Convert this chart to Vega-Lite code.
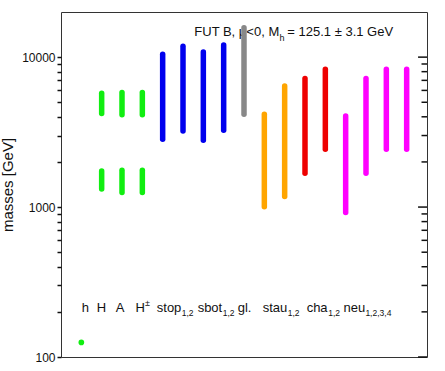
{
  "$schema": "https://vega.github.io/schema/vega-lite/v6.json",
  "width": 366,
  "height": 345,
  "autosize": {"type": "none"},
  "padding": {"left": 61, "top": 12, "right": 18, "bottom": 14},
  "background": "white",
  "config": {"view": {"stroke": "#333", "strokeWidth": 1}, "font": "Liberation Sans"},
  "datasets": {
    "bars": [
      {"p": "H", "i": 2, "lo": 1320, "hi": 1740, "g": "Higgs"},
      {"p": "H", "i": 2, "lo": 4200, "hi": 5750, "g": "Higgs"},
      {"p": "A", "i": 3, "lo": 1250, "hi": 1760, "g": "Higgs"},
      {"p": "A", "i": 3, "lo": 4120, "hi": 5800, "g": "Higgs"},
      {"p": "H±", "i": 4, "lo": 1250, "hi": 1760, "g": "Higgs"},
      {"p": "H±", "i": 4, "lo": 4120, "hi": 5800, "g": "Higgs"},
      {"p": "stop1", "i": 5, "lo": 2830, "hi": 10440, "g": "squark"},
      {"p": "stop2", "i": 6, "lo": 3220, "hi": 11800, "g": "squark"},
      {"p": "sbot1", "i": 7, "lo": 2790, "hi": 10840, "g": "squark"},
      {"p": "sbot2", "i": 8, "lo": 3250, "hi": 12060, "g": "squark"},
      {"p": "gl", "i": 9, "lo": 4155, "hi": 15730, "g": "gluino"},
      {"p": "stau1", "i": 10, "lo": 1003, "hi": 4155, "g": "stau"},
      {"p": "stau2", "i": 11, "lo": 1175, "hi": 6430, "g": "stau"},
      {"p": "cha1", "i": 12, "lo": 1680, "hi": 7190, "g": "chargino"},
      {"p": "cha2", "i": 13, "lo": 2430, "hi": 8300, "g": "chargino"},
      {"p": "neu1", "i": 14, "lo": 919, "hi": 4055, "g": "neutralino"},
      {"p": "neu2", "i": 15, "lo": 1680, "hi": 7190, "g": "neutralino"},
      {"p": "neu3", "i": 16, "lo": 2430, "hi": 8300, "g": "neutralino"},
      {"p": "neu4", "i": 17, "lo": 2430, "hi": 8300, "g": "neutralino"}
    ],
    "light": [{"p": "h", "i": 1, "m": 125.1, "g": "Higgs"}],
    "ticks": [
      {"v": 100, "kind": "major"}, {"v": 200, "kind": "minor"}, {"v": 300, "kind": "minor"},
      {"v": 400, "kind": "minor"}, {"v": 500, "kind": "minor"}, {"v": 600, "kind": "minor"},
      {"v": 700, "kind": "minor"}, {"v": 800, "kind": "minor"}, {"v": 900, "kind": "minor"},
      {"v": 1000, "kind": "major"}, {"v": 2000, "kind": "minor"}, {"v": 3000, "kind": "minor"},
      {"v": 4000, "kind": "minor"}, {"v": 5000, "kind": "minor"}, {"v": 6000, "kind": "minor"},
      {"v": 7000, "kind": "minor"}, {"v": 8000, "kind": "minor"}, {"v": 9000, "kind": "minor"},
      {"v": 10000, "kind": "major"}
    ],
    "texts": [
      {"t": "FUT B, μ<0, M", "x": 6.556, "row": "title", "pos": "main"},
      {"t": "h", "x": 10.75, "row": "title", "pos": "sub"},
      {"t": "= 125.1 ± 3.1 GeV", "x": 11.13, "row": "title", "pos": "main"},
      {"t": "h", "x": 1.02, "row": "labels", "pos": "main"},
      {"t": "H", "x": 1.76, "row": "labels", "pos": "main"},
      {"t": "A", "x": 2.69, "row": "labels", "pos": "main"},
      {"t": "H", "x": 3.67, "row": "labels", "pos": "main"},
      {"t": "±", "x": 4.13, "row": "labels", "pos": "sup"},
      {"t": "stop", "x": 4.71, "row": "labels", "pos": "main"},
      {"t": "1,2", "x": 5.94, "row": "labels", "pos": "sub"},
      {"t": "sbot", "x": 6.72, "row": "labels", "pos": "main"},
      {"t": "1,2", "x": 7.95, "row": "labels", "pos": "sub"},
      {"t": "gl.", "x": 8.69, "row": "labels", "pos": "main"},
      {"t": "stau", "x": 9.92, "row": "labels", "pos": "main"},
      {"t": "1,2", "x": 11.15, "row": "labels", "pos": "sub"},
      {"t": "cha", "x": 12.08, "row": "labels", "pos": "main"},
      {"t": "1,2", "x": 13.14, "row": "labels", "pos": "sub"},
      {"t": "neu", "x": 13.89, "row": "labels", "pos": "main"},
      {"t": "1,2,3,4", "x": 14.97, "row": "labels", "pos": "sub"}
    ]
  },
  "layer": [
    {
      "data": {"name": "texts"},
      "transform": [{"filter": "datum.row == 'title' && datum.pos == 'main'"}],
      "mark": {"type": "text", "align": "left", "baseline": "alphabetic", "fontSize": 13, "color": "#111"},
      "encoding": {
        "x": {"field": "x", "type": "quantitative", "scale": {"domain": [0, 18], "nice": false, "zero": false}, "axis": null},
        "y": {"datum": 13800, "type": "quantitative"},
        "text": {"field": "t"}
      }
    },
    {
      "data": {"name": "texts"},
      "transform": [{"filter": "datum.row == 'title' && datum.pos == 'sub'"}],
      "mark": {"type": "text", "align": "left", "baseline": "alphabetic", "fontSize": 9, "dy": 5, "color": "#111"},
      "encoding": {
        "x": {"field": "x", "type": "quantitative"},
        "y": {"datum": 13800, "type": "quantitative"},
        "text": {"field": "t"}
      }
    },
    {
      "data": {"name": "texts"},
      "transform": [{"filter": "datum.row == 'labels' && datum.pos == 'main'"}],
      "mark": {"type": "text", "align": "left", "baseline": "alphabetic", "fontSize": 13, "color": "#111"},
      "encoding": {
        "x": {"field": "x", "type": "quantitative"},
        "y": {"datum": 201, "type": "quantitative"},
        "text": {"field": "t"}
      }
    },
    {
      "data": {"name": "texts"},
      "transform": [{"filter": "datum.row == 'labels' && datum.pos == 'sub'"}],
      "mark": {"type": "text", "align": "left", "baseline": "alphabetic", "fontSize": 8.5, "dy": 4, "color": "#111"},
      "encoding": {
        "x": {"field": "x", "type": "quantitative"},
        "y": {"datum": 201, "type": "quantitative"},
        "text": {"field": "t"}
      }
    },
    {
      "data": {"name": "texts"},
      "transform": [{"filter": "datum.row == 'labels' && datum.pos == 'sup'"}],
      "mark": {"type": "text", "align": "left", "baseline": "alphabetic", "fontSize": 9, "dy": -6, "color": "#111"},
      "encoding": {
        "x": {"field": "x", "type": "quantitative"},
        "y": {"datum": 201, "type": "quantitative"},
        "text": {"field": "t"}
      }
    },
    {
      "data": {"name": "ticks"},
      "transform": [{"filter": "datum.kind == 'major'"}],
      "mark": {"type": "rule", "color": "#111", "strokeWidth": 1.5},
      "encoding": {
        "x": {"datum": 17.56, "type": "quantitative"},
        "x2": {"datum": 18},
        "y": {"field": "v", "type": "quantitative"}
      }
    },
    {
      "data": {"name": "ticks"},
      "transform": [{"filter": "datum.kind == 'minor'"}],
      "mark": {"type": "rule", "color": "#111", "strokeWidth": 1.5},
      "encoding": {
        "x": {"datum": 17.73, "type": "quantitative"},
        "x2": {"datum": 18},
        "y": {"field": "v", "type": "quantitative"}
      }
    },
    {
      "data": {"name": "bars"},
      "mark": {"type": "rule", "strokeWidth": 5.5, "strokeCap": "round"},
      "encoding": {
        "x": {"field": "i", "type": "quantitative"},
        "y": {
          "field": "lo", "type": "quantitative",
          "scale": {"type": "log", "domain": [100, 20000], "nice": false},
          "axis": {
            "orient": "left",
            "title": "masses [GeV]",
            "titleFont": "Liberation Sans",
            "titleFontSize": 15,
            "titleFontWeight": "normal",
            "titleColor": "#111",
            "titlePadding": 6,
            "values": [100, 200, 300, 400, 500, 600, 700, 800, 900, 1000, 2000, 3000, 4000, 5000, 6000, 7000, 8000, 9000, 10000],
            "labelExpr": "indexof([100, 1000, 10000], datum.value) >= 0 ? format(datum.value, 'd') : ''",
            "labelFont": "Liberation Sans",
            "labelFontSize": 12,
            "labelColor": "#111",
            "labelPadding": 2,
            "labelFlush": false,
            "labelOverlap": false,
            "ticks": true,
            "tickSize": 4,
            "tickColor": "#111",
            "tickWidth": 1.5,
            "domain": false,
            "grid": false
          }
        },
        "y2": {"field": "hi"},
        "color": {
          "field": "g", "type": "nominal",
          "scale": {"domain": ["Higgs", "squark", "gluino", "stau", "chargino", "neutralino"], "range": ["#11ee11", "#0000ee", "#888888", "#ffa500", "#ee0000", "#ff00ff"]},
          "legend": null
        }
      }
    },
    {
      "data": {"name": "light"},
      "mark": {"type": "circle", "size": 32, "opacity": 1},
      "encoding": {
        "x": {"field": "i", "type": "quantitative"},
        "y": {"field": "m", "type": "quantitative"},
        "color": {"field": "g", "type": "nominal", "legend": null}
      }
    }
  ]
}
